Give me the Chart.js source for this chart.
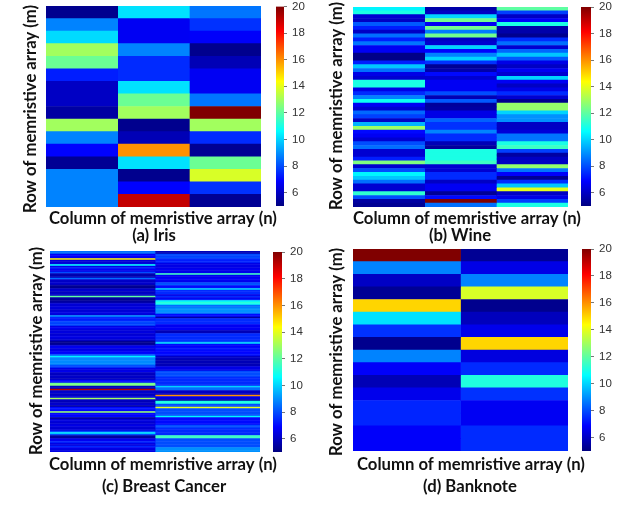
<!DOCTYPE html>
<html>
<head>
<meta charset="utf-8">
<style>
  html, body { margin: 0; padding: 0; background: #fff; overflow: hidden; }
  canvas { position: absolute; }
</style>
<script src="https://cdn.jsdelivr.net/npm/chart.js@4/dist/chart.umd.min.js"></script>
</head>
<body>
<script>
const cbarTicks = [6, 8, 10, 12, 14, 16, 18, 20];
const yLabel = 'Row of memristive array (m)';
const xLabel = 'Column of memristive array (n)';

// Iris, 16 rows
const irisCol1 = [5.2, 8.8, 10.1, 13, 12.2, 7.3, 6, 6, 5.5, 13, 8.8, 6.9, 5.3, 8.8, 8.8, 8.8];
const irisCol2 = [10.2, 6.7, 6.7, 8.8, 7.5, 7.5, 10.2, 12.2, 13, 5.2, 5.8, 16, 10.2, 5.2, 6.9, 19];
const irisCol3 = [8.6, 7.6, 6.8, 5.2, 5.8, 6.7, 6.7, 8.6, 20, 13, 7.5, 5.3, 12.2, 13.8, 7.6, 5.3];

// Wine, 52 rows
const wineCol1 = [10.5, 11, 6.2, 6, 8.2, 7.3, 6, 8.5, 7.3, 8.6, 6.7, 6.7, 5.1, 5.1, 7.3, 9.8, 8.5, 6.5, 6.2, 11, 11, 6.5, 7.5, 8.8, 10.8, 6.7,
  6.2, 8.4, 7.8, 6, 9.5, 12.9, 7, 6.7, 6.2, 8, 8.5, 6.2, 6.2, 7.3, 12.5, 6.2, 8, 10.5, 9.8, 8.5, 6.2, 6.2, 11.3, 8, 5.5, 5.3];
const wineCol2 = [5.6, 6, 10, 12.3, 6.7, 12.3, 8.7, 12.3, 6, 6.2, 10, 6.9, 8.8, 10, 7.6, 5.3, 5.6, 7, 6.2, 6.7, 6.7, 6.7, 8, 5.8, 8.2, 5.4,
  5.5, 6.5, 6.5, 8.3, 7.6, 7.6, 8.8, 7.5, 7.5, 5.8, 5.4, 11, 11, 11, 11.5, 6.2, 6.2, 7.5, 7.5, 6, 6.7, 6.7, 5.3, 7, 20, 8.5];
const wineCol3 = [12, 7.8, 6, 6.8, 11, 5.6, 5.6, 5.2, 7.5, 8.5, 6.2, 8.4, 9.8, 8.2, 6.5, 6, 6.7, 6.2, 10, 6.7, 6, 6.5, 7.5, 6.2, 5.2, 12.8,
  12.8, 10, 9, 9, 6, 6, 6.3, 8.6, 8.6, 11, 11.5, 7.8, 5.5, 6, 6, 12.8, 8.6, 6.8, 5.3, 7.5, 9.8, 14, 6, 6.5, 7.8, 11];

// Breast Cancer, 134 rows
const cancerCol1 = [8.5, 8.5, 6.7, 6.9, 6.7, 14.6, 6.3, 6.2, 6.4, 10.6, 6.6, 7.4, 6.8, 6.5, 8, 5.8, 5.6, 5.9, 8.5, 6.1, 6, 6.2, 5.9, 5.3, 5.2,
  6, 6.2, 5.9, 6.1, 6, 12, 5.5, 5.3, 5.4, 5.6, 6.3, 6.2, 6.4, 6.3, 6.2, 6.3, 6.5, 6.3, 9, 7.5, 7.2, 7.4, 8, 7.8, 8,
  6.5, 6.7, 6.4, 6.3, 6.4, 6.2, 6.3, 6.5, 6.3, 6.2, 5.3, 5.2, 5.4, 6.5, 6.7, 6.4, 6.6, 6.8, 7, 8.2,
  10.5, 8.9, 8.9, 8.9, 8.9, 8.9, 8, 7.8, 6.5, 6.4, 6.6, 6, 5.9, 6.1, 6, 5.9, 7, 7, 12.3, 12.5, 6, 5.8, 19.2, 6, 6.2, 5.9, 6.1, 6.3, 13,
  6, 5.8, 6, 6.2, 5.5, 7, 7.2, 6.9, 12.8, 7, 6.8, 7, 5.4, 6.3, 6.4, 6.2, 6.3, 6.5, 6.3, 6.2, 6.4, 8, 10.5, 8, 5.5, 5.4,
  6.5, 6.7, 7.5, 6.5, 6.4, 7.4, 6.6, 6.4, 6.5];
const cancerCol2 = [5.8, 5.8, 8, 7.8, 8, 7.5, 7.3, 7.5, 6.5, 6.5, 6.5, 6.5, 6.7, 6.5, 6.6, 11.5, 6.7, 6.6, 6.8, 6.7, 6.6, 8, 8.2, 7, 7.1, 10,
  7.5, 7.5, 7.5, 6.5, 7.5, 6.6, 7.4, 10.5, 11.2, 10.8, 8.5, 8.6, 9, 9, 9, 8.8, 7, 7, 5.5, 7.5, 7.5, 7.5, 7.5, 6.7, 6.7, 6.7, 6.7, 5.8, 5.8,
  7.5, 7.5, 7.5, 7.5, 7.5, 8, 10.2, 7, 6.8, 7, 7.2, 7, 6.9, 7, 7.1,
  6, 6, 5.8, 5.8, 5.8, 5.8, 5.8, 6.5, 6.5, 6.5, 8, 8, 8, 8, 7.5, 7.5, 7.5, 7.5, 7.5, 7.5, 10, 8.5, 8.5, 6, 6, 6, 16, 6.5, 6.5, 5.5, 11, 11, 8, 8,
  14, 8, 8, 8, 8, 8, 10.5, 7, 7, 7, 7, 7, 8, 8, 7.5, 7.5, 7.5, 7.5, 7.5, 11.5, 11.5, 8, 8, 8, 8, 8, 8, 9, 9, 9];

// Banknote, 16 rows
const noteCol1 = [20, 8.8, 6, 5.3, 15, 10.2, 7.6, 5.2, 8.8, 6.8, 5.8, 6.6, 7.4, 7.4, 6.8, 6.8];
const noteCol2 = [5.3, 6.5, 8.8, 13.8, 5.2, 5.9, 6.6, 15, 6.4, 7.5, 11.1, 7.6, 6.7, 6.7, 7.5, 7.5];

const vMin = 5;
const vMax = 20;

// jet colormap stops
const jetStops = [
  [0, 0, 0, 128], [0.125, 0, 0, 255], [0.375, 0, 255, 255],
  [0.625, 255, 255, 0], [0.875, 255, 0, 0], [1, 128, 0, 0]
];

function jet(v) {
  const t = Math.min(1, Math.max(0, (v - vMin) / (vMax - vMin)));
  let i = 0;
  while (i < jetStops.length - 2 && t > jetStops[i + 1][0]) i++;
  const a = jetStops[i], b = jetStops[i + 1];
  const f = (t - a[0]) / (b[0] - a[0]);
  const c = [1, 2, 3].map(k => Math.round(a[k] + (b[k] - a[k]) * f));
  return 'rgb(' + c.join(',') + ')';
}

function addCanvas(left, top, w, h) {
  const c = document.createElement('canvas');
  c.width = w;
  c.height = h;
  c.style.left = left + 'px';
  c.style.top = top + 'px';
  c.style.width = w + 'px';
  c.style.height = h + 'px';
  document.body.appendChild(c);
  return c;
}

const titleSize = 16.7;

// axis titles are wider than the plot here and Chart.js squeezes its own to fit, so draw them here
const panelLabels = {
  id: 'panelLabels',
  afterDraw(chart, args, o) {
    const ctx = chart.ctx;
    ctx.save();
    ctx.font = 'bold ' + titleSize + 'px Lato';
    ctx.fillStyle = '#111';
    ctx.textBaseline = 'middle';
    ctx.textAlign = 'left';
    ctx.fillText(xLabel, o.xLeft, o.xMid);
    ctx.textAlign = 'center';
    ctx.fillText(o.caption, o.capX, o.capY);
    ctx.translate(o.yX, o.yMid);
    ctx.rotate(-Math.PI / 2);
    ctx.fillText(yLabel, 0, 0);
    ctx.restore();
  }
};

function heatmap(p) {
  const rows = p.cols[0].map((_, i) => i + 1);
  const canvas = addCanvas(p.left, p.top, p.w, p.h);
  new Chart(canvas, {
    type: 'bar',
    plugins: [panelLabels],
    data: {
      labels: rows,
      datasets: p.cols.map((col, c) => ({
        data: col.map(() => [c, c + 1]),
        backgroundColor: col.map(jet),
        borderWidth: 0,
        grouped: false,
        barPercentage: 1,
        categoryPercentage: 1
      }))
    },
    options: {
      indexAxis: 'y',
      responsive: false,
      animation: false,
      devicePixelRatio: 1,
      layout: {
        padding: {
          top: p.plotTop - p.top,
          right: p.left + p.w - p.plotRight,
          left: p.plotLeft - p.left,
          bottom: p.top + p.h - p.plotBottom
        }
      },
      plugins: {
        legend: { display: false },
        tooltip: { enabled: false },
        panelLabels: {
          caption: p.caption,
          capX: p.capX - p.left,
          capY: p.capY - p.top,
          xLeft: p.xLeft - p.left,
          xMid: p.xMid - p.top,
          yX: p.yX - p.left,
          yMid: p.yMid - p.top
        }
      },
      scales: {
        x: { type: 'linear', display: false, min: 0, max: p.cols.length },
        y: { type: 'category', display: false }
      }
    }
  });
}

function colorbar(p) {
  const canvas = addCanvas(p.left, p.top, 50, p.h);
  new Chart(canvas, {
    type: 'bar',
    data: {
      labels: [''],
      datasets: [{
        data: [[vMin, vMax]],
        borderWidth: 0,
        barPercentage: 1,
        categoryPercentage: 1,
        backgroundColor: ctx => {
          const y = ctx.chart.scales.y;
          if (!y || !ctx.chart.chartArea) return '#00f';
          const g = ctx.chart.ctx.createLinearGradient(0, y.getPixelForValue(vMin), 0, y.getPixelForValue(vMax));
          jetStops.forEach(s => g.addColorStop(s[0], 'rgb(' + s[1] + ',' + s[2] + ',' + s[3] + ')'));
          return g;
        }
      }]
    },
    options: {
      responsive: false,
      animation: false,
      devicePixelRatio: 1,
      layout: { padding: { left: p.barLeft - p.left, top: p.barTop - p.top, bottom: p.top + p.h - p.barBottom, right: 0 } },
      plugins: { legend: { display: false }, tooltip: { enabled: false } },
      scales: {
        x: { display: false },
        y: {
          position: 'right',
          min: vMin,
          max: vMax,
          afterBuildTicks: s => { s.ticks = cbarTicks.map(v => ({ value: v })); },
          afterFit: s => { s.width = 50 - (p.barRight - p.left); },
          grid: { drawOnChartArea: false, drawTicks: true, tickLength: 3, tickColor: '#777', tickWidth: 1 },
          border: { display: false },
          ticks: { color: '#333', padding: 5, font: { family: 'Liberation Sans', size: 11.5 }, autoSkip: false, maxRotation: 0 }
        }
      }
    }
  });
}

const panels = [
  { cols: [irisCol1, irisCol2, irisCol3], caption: '(a) Iris', left: 0, top: 0, w: 320, h: 245,
    plotLeft: 46, plotRight: 261, plotTop: 6, plotBottom: 207,
    capX: 154, capY: 236, xLeft: 49, xMid: 219, yX: 31, yMid: 109 },
  { cols: [wineCol1, wineCol2, wineCol3], caption: '(b) Wine', left: 320, top: 0, w: 320, h: 245,
    plotLeft: 353, plotRight: 568, plotTop: 7, plotBottom: 207,
    capX: 460, capY: 236, xLeft: 353, xMid: 219, yX: 337, yMid: 106 },
  { cols: [cancerCol1, cancerCol2], caption: '(c) Breast Cancer', left: 0, top: 245, w: 320, h: 255,
    plotLeft: 50, plotRight: 260, plotTop: 251, plotBottom: 452,
    capX: 164, capY: 487, xLeft: 49, xMid: 465, yX: 37, yMid: 351 },
  { cols: [noteCol1, noteCol2], caption: '(d) Banknote', left: 320, top: 245, w: 320, h: 255,
    plotLeft: 353, plotRight: 568, plotTop: 249, plotBottom: 451,
    capX: 470, capY: 487, xLeft: 357, xMid: 465, yX: 337, yMid: 352 }
];

const bars = [
  { left: 270, top: -20, h: 240, barLeft: 276, barRight: 284, barTop: 6.5, barBottom: 206 },
  { left: 576, top: -20, h: 240, barLeft: 581, barRight: 591, barTop: 7, barBottom: 206 },
  { left: 268, top: 225, h: 240, barLeft: 273, barRight: 282, barTop: 252, barBottom: 452 },
  { left: 576, top: 225, h: 240, barLeft: 582, barRight: 591, barTop: 249, barBottom: 451 }
];

panels.forEach(heatmap);
bars.forEach(colorbar);
</script>
</body>
</html>
